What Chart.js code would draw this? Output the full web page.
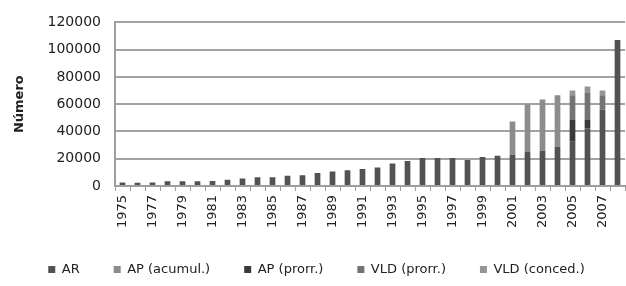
<!DOCTYPE html>
<html>
<head>
<meta charset="utf-8">
<script src="https://cdn.jsdelivr.net/npm/chart.js@4"></script>
<style>
  html, body { margin: 0; padding: 0; background: #fff; }
</style>
</head>
<body>
<canvas id="c" width="626" height="286" style="width:626px;height:286px;display:block"></canvas>
<script>
const years = ['1975','1976','1977','1978','1979','1980','1981','1982','1983','1984','1985','1986','1987','1988','1989','1990','1991','1992','1993','1994','1995','1996','1997','1998','1999','2000','2001','2002','2003','2004','2005','2006','2007','2008'];
const ar = [2500,2300,2500,3500,3500,3500,3700,4500,5500,6500,6500,7500,7800,9600,10600,11500,12500,13600,16500,18400,20500,20500,20500,19000,21200,22100,23000,24900,25900,28700,32500,42400,56000,107000];
const apAcumul = [0,0,0,0,0,0,0,0,0,0,0,0,0,0,0,0,0,0,0,0,0,0,0,0,0,0,24300,35100,37600,37900,0,0,0,0];
const apProrr = [0,0,0,0,0,0,0,0,0,0,0,0,0,0,0,0,0,0,0,0,0,0,0,0,0,0,0,0,0,0,16000,6100,0,0];
const vldProrr = [0,0,0,0,0,0,0,0,0,0,0,0,0,0,0,0,0,0,0,0,0,0,0,0,0,0,0,0,0,0,18100,19700,10600,0];
const vldConced = [0,0,0,0,0,0,0,0,0,0,0,0,0,0,0,0,0,0,0,0,0,0,0,0,0,0,0,0,0,0,3500,4700,3500,0];
const yMax = 120000;
const yStep = 20000;

Chart.defaults.font.family = 'DejaVu Sans';
Chart.defaults.color = '#222';

const mk = (label, data, color) => ({label, data, backgroundColor: color, borderWidth: 0, barPercentage: 0.38, categoryPercentage: 1.0});

const chart = new Chart(document.getElementById('c'), {
  type: 'bar',
  data: { labels: years, datasets: [
    mk('AR', ar, '#525252'),
    mk('AP (acumul.)', apAcumul, '#8c8c8c'),
    mk('AP (prorr.)', apProrr, '#3a3a3a'),
    mk('VLD (prorr.)', vldProrr, '#737373'),
    mk('VLD (conced.)', vldConced, '#959595')
  ] },
  options: {
    responsive: false, animation: false, devicePixelRatio: 1,
    layout: { padding: { top: 16, right: 1, left: 8, bottom: 0 } },
    plugins: {
      tooltip: { enabled: false },
      legend: { position: 'bottom', labels: { boxWidth: 7, boxHeight: 7, padding: 34, color: '#222', font: { family: 'DejaVu Sans', size: 13 } } }
    },
    scales: {
      x: {
        stacked: true,
        grid: { color: '#9d9da3', lineWidth: 1, drawOnChartArea: false, tickLength: 5, offset: true },
        border: { color: '#9d9da3', width: 2 },
        ticks: { autoSkip: false, minRotation: 90, maxRotation: 90, padding: 4, color: '#222', font: { size: 13 },
          callback: (v, i) => i % 2 === 0 ? years[i] : '' },
        afterFit: a => { a.height = 43; a.paddingLeft = 0; a.paddingRight = 0; }
      },
      y: {
        stacked: true, min: 0, max: yMax,
        grid: { color: '#a2a2a8', lineWidth: 2, drawTicks: false },
        border: { color: '#9d9da3', width: 2 },
        ticks: { stepSize: yStep, padding: 14, color: '#222', font: { size: 14 }, callback: v => String(v) },
        title: { display: true, text: 'Número', color: '#222', font: { family: 'DejaVu Sans', size: 13, weight: 'bold' }, padding: { top: 4, bottom: 0 } },
        afterFit: a => { a.width = 107; }
      }
    }
  }
});
</script>
</body>
</html>
